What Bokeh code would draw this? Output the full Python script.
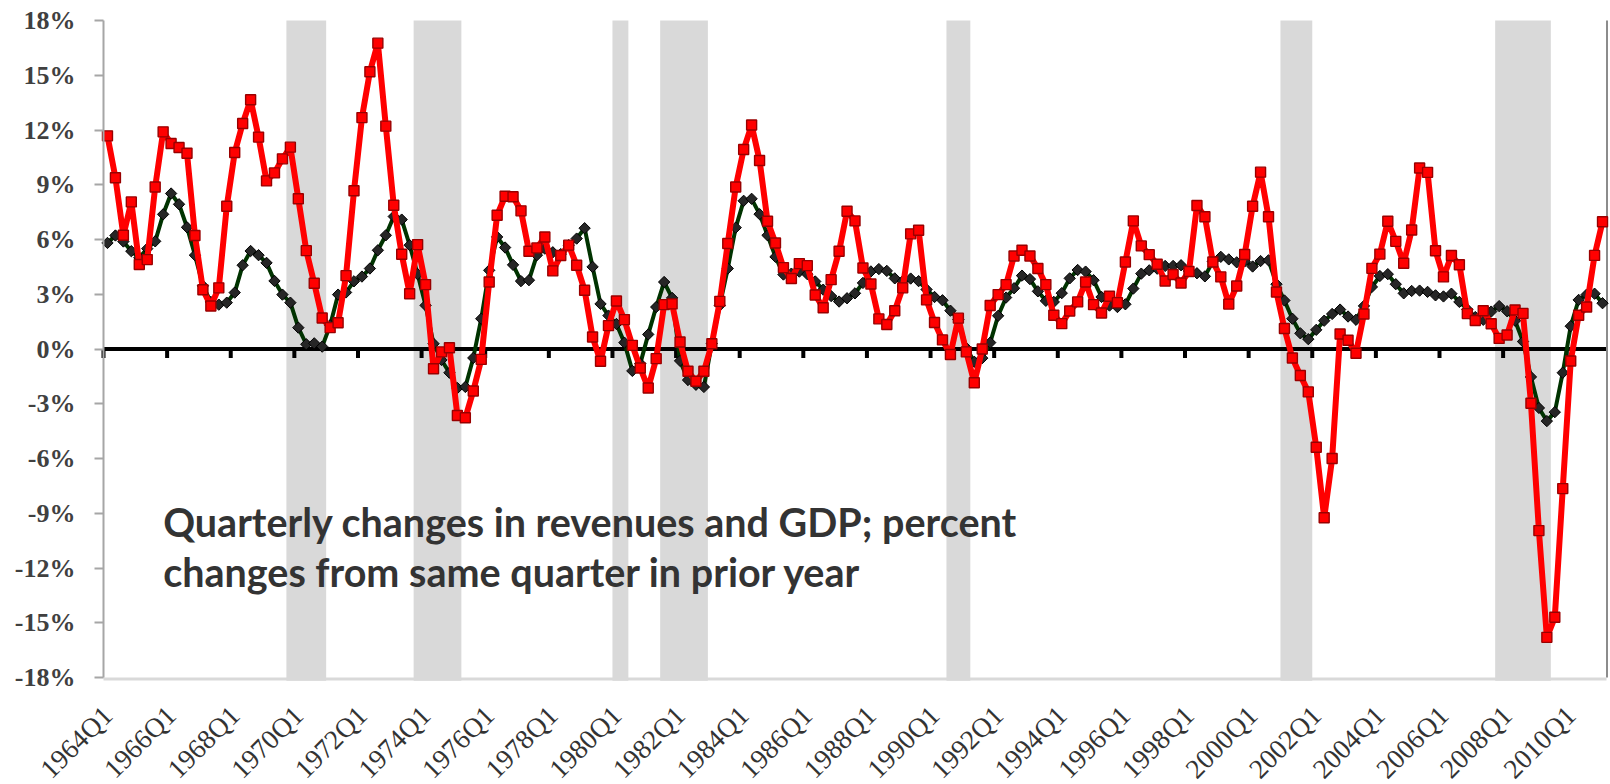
from math import pi
from bokeh.plotting import figure
from bokeh.models import (Range1d, FixedTicker, PrintfTickFormatter, Label)
from bokeh.embed import file_html
from bokeh.resources import INLINE

# ---------------- data ----------------
start_year = 1964

revenue = [
    11.68, 9.38, 6.23, 8.06, 4.63, 4.90, 8.88, 11.90, 11.26, 11.04,
    10.73, 6.22, 3.25, 2.36, 3.35, 7.82, 10.77, 12.36, 13.66, 11.61,
    9.21, 9.65, 10.42, 11.06, 8.23, 5.39, 3.60, 1.70, 1.17, 1.44,
    4.02, 8.67, 12.68, 15.19, 16.76, 12.21, 7.88, 5.19, 3.03, 5.72,
    3.53, -1.08, -0.16, 0.07, -3.64, -3.77, -2.30, -0.57, 3.67, 7.33,
    8.37, 8.34, 7.57, 5.36, 5.54, 6.14, 4.28, 5.12, 5.69, 4.59,
    3.22, 0.66, -0.67, 1.28, 2.63, 1.61, 0.20, -1.04, -2.14, -0.53,
    2.43, 2.47, 0.38, -1.22, -1.77, -1.22, 0.29, 2.61, 5.78, 8.88,
    10.93, 12.27, 10.33, 7.00, 5.81, 4.46, 3.86, 4.68, 4.57, 2.96,
    2.26, 3.80, 5.36, 7.55, 7.02, 4.44, 3.56, 1.65, 1.34, 2.10,
    3.35, 6.31, 6.51, 2.69, 1.45, 0.50, -0.30, 1.69, -0.16, -1.85,
    0.00, 2.38, 2.98, 3.53, 5.10, 5.41, 5.10, 4.41, 3.53, 1.85,
    1.39, 2.08, 2.58, 3.67, 2.43, 1.97, 2.89, 2.54, 4.77, 7.02,
    5.65, 5.17, 4.64, 3.73, 4.08, 3.62, 4.25, 7.86, 7.25, 4.77,
    3.95, 2.46, 3.45, 5.18, 7.82, 9.69, 7.25, 3.12, 1.12, -0.49,
    -1.45, -2.35, -5.38, -9.25, -6.00, 0.82, 0.48, -0.23, 1.92, 4.42,
    5.20, 7.00, 5.90, 4.70, 6.52, 9.92, 9.68, 5.38, 3.95, 5.12,
    4.62, 1.94, 1.56, 2.10, 1.38, 0.58, 0.77, 2.14, 1.95, -2.97,
    -9.95, -15.80, -14.70, -7.65, -0.66, 1.85, 2.30, 5.13, 6.97,
]

gdp = [
    5.81, 6.22, 5.89, 5.36, 5.00, 5.50, 5.90, 7.38, 8.52, 7.93,
    6.67, 5.14, 3.46, 2.58, 2.43, 2.54, 3.09, 4.59, 5.37, 5.14,
    4.72, 3.73, 2.98, 2.54, 1.17, 0.26, 0.31, 0.13, 1.30, 2.98,
    3.10, 3.71, 3.97, 4.41, 5.41, 6.23, 7.26, 7.09, 5.69, 4.10,
    2.39, 0.29, -0.60, -1.30, -2.14, -2.08, -0.49, 1.66, 4.31, 6.14,
    5.56, 4.61, 3.72, 3.77, 5.14, 5.50, 5.30, 5.20, 5.69, 6.05,
    6.62, 4.50, 2.47, 1.83, 1.37, 0.35, -1.20, -0.80, 0.80, 2.30,
    3.67, 2.80, -0.65, -1.70, -1.96, -2.08, 0.30, 2.39, 4.41, 6.65,
    8.12, 8.23, 7.39, 6.23, 5.05, 4.08, 4.13, 4.24, 4.10, 3.70,
    3.25, 2.90, 2.60, 2.78, 3.05, 3.62, 4.25, 4.38, 4.28, 3.87,
    3.72, 3.86, 3.72, 3.26, 2.85, 2.67, 2.10, 1.62, 0.05, -0.70,
    -0.50, 0.35, 1.82, 2.82, 3.33, 4.02, 3.83, 3.16, 2.64, 2.58,
    3.06, 3.87, 4.33, 4.24, 3.77, 2.85, 2.38, 2.30, 2.45, 3.31,
    4.13, 4.31, 4.40, 4.55, 4.55, 4.59, 4.28, 4.15, 3.98, 4.80,
    5.05, 4.91, 4.75, 4.80, 4.52, 4.82, 4.86, 3.55, 2.66, 1.66,
    0.86, 0.54, 1.05, 1.55, 1.92, 2.16, 1.78, 1.60, 2.36, 3.40,
    4.00, 4.10, 3.55, 3.05, 3.18, 3.20, 3.13, 2.94, 2.88, 3.03,
    2.58, 2.17, 1.75, 1.60, 2.05, 2.35, 2.07, 1.55, 0.41, -1.53,
    -3.23, -3.95, -3.46, -1.30, 1.25, 2.69, 2.98, 3.03, 2.51,
]

recession_start = ["1969Q4", "1973Q4", "1980Q1", "1981Q3", "1990Q3", "2001Q1", "2007Q4"]
recession_end = ["1970Q4", "1975Q1", "1980Q2", "1982Q4", "1991Q1", "2001Q4", "2009Q2"]

y_ticks = [-18, -15, -12, -9, -6, -3, 0, 3, 6, 9, 12, 15, 18]
label_step = 8

note_lines = ["Quarterly changes in revenues and GDP; percent",
              "changes from same quarter in prior year"]

# ---------------- derived ----------------
n = len(revenue)
quarters = [f"{start_year + i // 4}Q{i % 4 + 1}" for i in range(n)]
xs = list(range(n))
label_pos = list(range(0, n, label_step))
label_txt = {i: quarters[i] for i in label_pos}
boundary_ticks = [i - 0.5 for i in label_pos]
rec_x0 = [quarters.index(s) - 0.5 for s in recession_start]
rec_x1 = [quarters.index(e) + 0.5 for e in recession_end]

# ---------------- layout geometry (pixels) ----------------
W, H = 1610, 784
plot_left, plot_right, plot_top, plot_bottom = 103, 1606, 20, 677
x_lo, x_hi = -0.5, n - 0.5
y_lo, y_hi = y_ticks[0], y_ticks[-1]
ux = (x_hi - x_lo) / (plot_right - plot_left)      # data per px
uy = (y_hi - y_lo) / (plot_bottom - plot_top)
x_range = Range1d(x_lo - plot_left * ux, x_hi + (W - plot_right) * ux)
y_range = Range1d(y_lo - (H - plot_bottom) * uy, y_hi + plot_top * uy)

p = figure(width=W, height=H, output_backend="svg", toolbar_location=None,
           x_range=x_range, y_range=y_range,
           min_border=0, min_border_left=0, min_border_right=0,
           min_border_top=0, min_border_bottom=0)
p.grid.visible = False
p.outline_line_color = None
p.background_fill_color = "white"
p.border_fill_color = "white"

# y axis (pinned at the left edge of the plotting area)
yax = p.yaxis[0]
yax.fixed_location = x_lo
yax.bounds = (y_lo, y_hi)
yax.ticker = FixedTicker(ticks=y_ticks)
yax.formatter = PrintfTickFormatter(format="%d%%")
yax.major_label_text_font = "Liberation Serif"
yax.major_label_text_font_style = "bold"
yax.major_label_text_font_size = "26px"
yax.major_label_text_color = "#404040"
yax.axis_line_color = "#a6a6a6"
yax.axis_line_width = 2
yax.major_tick_line_color = "#a6a6a6"
yax.major_tick_line_width = 2
yax.major_tick_out = 9
yax.major_tick_in = 0
yax.minor_tick_line_color = None
yax.major_label_standoff = 19

# x axis (pinned at the bottom of the plotting area) with rotated labels
xax = p.xaxis[0]
xax.fixed_location = y_lo
xax.bounds = (x_lo, x_hi)
xax.ticker = FixedTicker(ticks=label_pos)
xax.major_label_overrides = label_txt
xax.major_label_orientation = pi / 4
xax.major_label_text_font = "Liberation Serif"
xax.major_label_text_font_size = "27.5px"
xax.major_label_text_color = "#333333"
xax.major_label_standoff = 33
xax.axis_line_color = None
xax.major_tick_line_color = None
xax.major_tick_out = 0
xax.major_tick_in = 0
xax.minor_tick_line_color = None

# light baseline under the plot (covered by the recession bands)
base_y = y_lo - 1.5 * uy
p.segment(x0=[x_lo], y0=[base_y], x1=[x_hi], y1=[base_y],
          line_color="#d9d9d9", line_width=3)

# recession bands
p.quad(left=rec_x0, right=rec_x1, bottom=y_lo - 3.2 * uy, top=y_hi,
       fill_color="#d9d9d9", line_color=None)

# zero line with tick marks at category boundaries
p.segment(x0=[x_lo], y0=[0], x1=[x_hi], y1=[0], line_color="black", line_width=4)
p.segment(x0=boundary_ticks, y0=[0] * len(boundary_ticks),
          x1=boundary_ticks, y1=[-9 * uy] * len(boundary_ticks),
          line_color="black", line_width=4)

# right edge line
p.segment(x0=[x_hi + 0.5 * ux], y0=[y_lo], x1=[x_hi + 0.5 * ux], y1=[y_hi],
          line_color="#8c8c8c", line_width=2)

# GDP series
p.line(xs, gdp, line_color="#003300", line_width=4, line_join="round")
p.scatter(xs, gdp, marker="square", angle=pi / 4, size=8,
          fill_color="#262626", line_color="#000000", line_width=1)

# revenue series
p.line(xs, revenue, line_color="#ff0000", line_width=6, line_join="round")
p.scatter(xs, revenue, marker="square", size=10,
          fill_color="#ff0000", line_color="#990000", line_width=1.4)

# note text
note_y = [-9.45, -12.2]
for t, yy in zip(note_lines, note_y):
    p.add_layout(Label(x=7.0, y=yy, text=t, text_font="Lato",
                       text_font_style="bold", text_font_size="39.5px",
                       text_color="#333333", text_align="left",
                       text_baseline="alphabetic"))

open("out.html", "w").write(file_html(p, INLINE))
